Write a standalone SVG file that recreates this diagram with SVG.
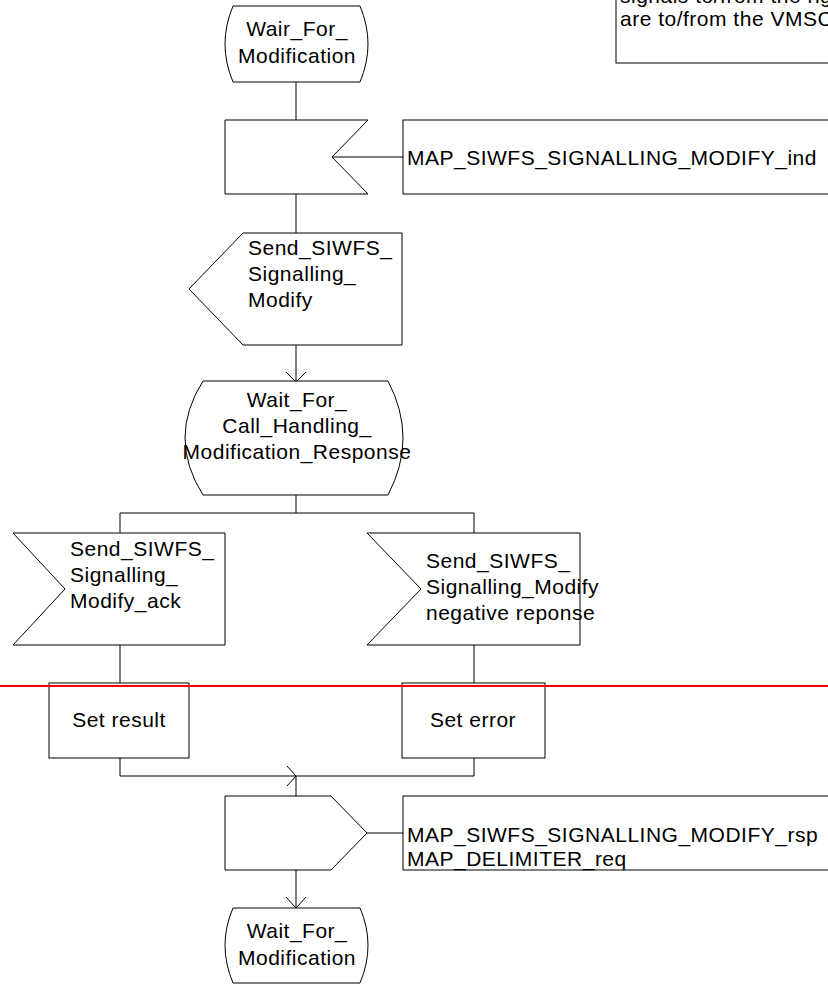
<svg xmlns="http://www.w3.org/2000/svg" width="828" height="985" viewBox="0 0 828 985">
<style>
.s{fill:#fff;stroke:#000;stroke-width:1}
.c{fill:none;stroke:#000;stroke-width:1}
text{font-family:"Liberation Sans",Arial,sans-serif;font-size:21px;letter-spacing:0.5px;fill:#000}
.m{text-anchor:middle}
</style>
<rect width="828" height="985" fill="#fff"/>
<g id="note">
<rect class="s" x="616" y="-20" width="300" height="83"/>
<text x="620" y="3">signals to/from the right</text>
<text x="620" y="26">are to/from the VMSC</text>
</g>
<g id="connectors">
<path class="c" d="M296,82V120 M296,194V233 M296,345V382 M286,372L296,382L306,372 M332,157H403 M296,495V513 M120,513H474 M120,513V533 M474,513V533 M120,645V683 M474,645V683 M120,758V776H474V758 M287,766L296,776L287,786 M296,776V796 M367,833H403 M296,870V908 M286,897L296,908L306,897"/>
</g>
<g id="state1">
<path class="s" d="M233,6H360Q376,44 360,82H233Q217,44 233,6Z"/>
<text class="m" x="297" y="36">Wair_For_</text>
<text class="m" x="297" y="63">Modification</text>
</g>
<g id="input1">
<path class="s" d="M225,120H368L332,157L368,194H225Z"/>
</g>
<g id="signal1">
<rect class="s" x="403" y="120" width="440" height="74"/>
<text x="407" y="165">MAP_SIWFS_SIGNALLING_MODIFY_ind</text>
</g>
<g id="task1">
<path class="s" d="M243,233H402V345H243L189,289Z"/>
<text x="248" y="255">Send_SIWFS_</text>
<text x="248" y="281">Signalling_</text>
<text x="248" y="307">Modify</text>
</g>
<g id="state2">
<path class="s" d="M203,381H388Q418,438 388,495H203Q167,438 203,381Z"/>
<text class="m" x="297" y="407">Wait_For_</text>
<text class="m" x="297" y="433">Call_Handling_</text>
<text class="m" x="297" y="459">Modification_Response</text>
</g>
<g id="ack">
<path class="s" d="M13,533H225V645H13L65,589Z"/>
<text x="70" y="556">Send_SIWFS_</text>
<text x="70" y="582">Signalling_</text>
<text x="70" y="608">Modify_ack</text>
</g>
<g id="nack">
<path class="s" d="M367,533H580V645H367L421,589Z"/>
<text x="426" y="568">Send_SIWFS_</text>
<text x="426" y="594">Signalling_Modify</text>
<text x="426" y="620">negative reponse</text>
</g>
<g id="setresult">
<rect class="s" x="49" y="683" width="140" height="75"/>
<text class="m" x="119" y="727">Set result</text>
</g>
<g id="seterror">
<rect class="s" x="402" y="683" width="143" height="75"/>
<text class="m" x="473" y="727">Set error</text>
</g>
<line x1="0" y1="686" x2="828" y2="686" stroke="#ff0000" stroke-width="2"/>
<g id="output1">
<path class="s" d="M225,796H331L367,833L331,870H225Z"/>
</g>
<g id="signal2">
<rect class="s" x="403" y="796" width="440" height="74"/>
<text x="407" y="842">MAP_SIWFS_SIGNALLING_MODIFY_rsp</text>
<text x="407" y="866">MAP_DELIMITER_req</text>
</g>
<g id="state3">
<path class="s" d="M233,908H360Q376,945 360,983H233Q217,945 233,908Z"/>
<text class="m" x="297" y="938">Wait_For_</text>
<text class="m" x="297" y="965">Modification</text>
</g>
</svg>
